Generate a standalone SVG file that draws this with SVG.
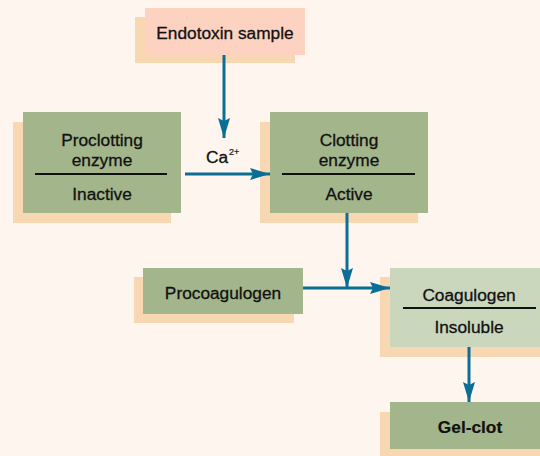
<svg xmlns="http://www.w3.org/2000/svg" width="540" height="456" viewBox="0 0 540 456">
<defs>
<style>
.bg{fill:#fdf5ee}
.sh{fill:#f8d8b3}
.pink{fill:#fdd2c0}
.green{fill:#a3b58b}
.lgreen{fill:#cad7bd}
.t{font-family:"Liberation Sans",Arial,sans-serif;font-size:17.3px;fill:#111;text-anchor:middle;stroke:#111;stroke-width:0.3}
.b{font-weight:bold;stroke-width:0.2}
.rule{stroke:#111;stroke-width:2}
.c{stroke:#0b6e96;stroke-width:3;fill:none}
</style>
<marker id="ah2" viewBox="0 0 20 12" refX="20" refY="6" markerWidth="20" markerHeight="12" markerUnits="userSpaceOnUse" orient="auto">
<path d="M0,0 L20,6 L0,12 L3,6 Z" fill="#0b6e96"/>
</marker>
</defs>
<rect class="bg" x="0" y="0" width="540" height="456"/>

<g id="endotoxin">
<rect class="sh" x="135" y="17" width="160" height="46"/>
<rect class="pink" x="145" y="8" width="160" height="47"/>
<text class="t" x="225" y="39">Endotoxin sample</text>
</g>

<g id="proclotting">
<rect class="sh" x="13" y="122" width="158" height="101"/>
<rect class="green" x="23" y="112" width="158" height="101"/>
<text class="t" x="102" y="146">Proclotting</text>
<text class="t" x="102" y="166">enzyme</text>
<line class="rule" x1="35" y1="174" x2="167" y2="174"/>
<text class="t" x="102" y="200">Inactive</text>
</g>

<g id="clotting">
<rect class="sh" x="260" y="122" width="158" height="101"/>
<rect class="green" x="270" y="112" width="158" height="101"/>
<text class="t" x="349" y="146">Clotting</text>
<text class="t" x="349" y="166">enzyme</text>
<line class="rule" x1="282" y1="174" x2="415" y2="174"/>
<text class="t" x="349" y="200">Active</text>
</g>

<g id="procoagulogen">
<rect class="sh" x="134" y="277" width="160" height="46"/>
<rect class="green" x="143" y="268" width="160" height="46"/>
<text class="t" x="223" y="299">Procoagulogen</text>
</g>

<g id="coagulogen">
<rect class="sh" x="380" y="277" width="160" height="80"/>
<rect class="lgreen" x="390" y="268" width="150" height="79"/>
<text class="t" x="469" y="301">Coagulogen</text>
<line class="rule" x1="403" y1="308" x2="536" y2="308"/>
<text class="t" x="469" y="333">Insoluble</text>
</g>

<g id="gelclot">
<rect class="sh" x="380" y="412" width="160" height="44"/>
<rect class="green" x="390" y="402" width="150" height="47"/>
<text class="t b" x="470" y="433">Gel-clot</text>
</g>

<g id="connectors">
<line class="c" x1="224" y1="55" x2="224" y2="138" marker-end="url(#ah2)"/>
<line class="c" x1="185" y1="174" x2="270" y2="174" marker-end="url(#ah2)"/>
<line class="c" x1="347" y1="213" x2="347" y2="288" marker-end="url(#ah2)"/>
<line class="c" x1="303" y1="288" x2="390" y2="288" marker-end="url(#ah2)"/>
<line class="c" x1="469" y1="347" x2="469" y2="402" marker-end="url(#ah2)"/>
<text class="t" x="206" y="163" style="text-anchor:start">Ca<tspan font-size="9" dy="-8" dx="1" style="stroke-width:0.2">2+</tspan></text>
</g>
</svg>
